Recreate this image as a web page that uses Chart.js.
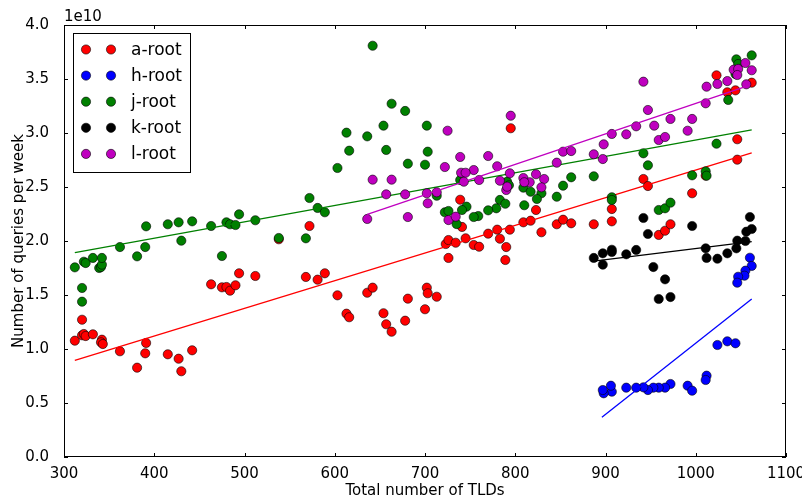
<!DOCTYPE html>
<html>
<head>
<meta charset="utf-8">
<script src="https://cdn.jsdelivr.net/npm/chart.js@4.4.0/dist/chart.umd.min.js"></script>
<style>
    html, body { margin: 0; padding: 0; background: #fff; }
    #wrap { width: 802px; height: 500px; }
</style>
</head>
<body>
<div id="wrap"><canvas id="roots-chart" width="802" height="500"></canvas></div>
<script>
// queries per week, in units of 1e10, against total number of TLDs
const aRootTlds = [312, 320, 320, 322, 324, 332, 342, 341, 343, 362, 381, 391, 390, 415, 427, 430, 442, 463, 475, 480,
    484, 490, 494, 512, 572, 538, 568, 581, 589, 603, 613, 616, 636, 642, 654, 657, 663, 678, 681, 702,
    703, 713, 700, 723, 726, 726, 795, 739, 741, 734, 745, 754, 760, 770, 780, 783, 790, 789, 794, 809,
    817, 823, 829, 846, 853, 862, 887, 907, 907, 1023, 1035, 1044, 1062, 1046, 1046, 942, 947, 1011, 996, 959,
    966, 972];
const aRootQueries = [1.077, 1.271, 1.127, 1.139, 1.120, 1.136, 1.086, 1.062, 1.046, 0.979, 0.827, 1.056, 0.960, 0.951, 0.910, 0.794, 0.988, 1.599, 1.571, 1.574,
    1.540, 1.590, 1.701, 1.676, 2.139, 2.016, 1.667, 1.642, 1.701, 1.497, 1.327, 1.294, 1.521, 1.568, 1.331, 1.229, 1.160, 1.262, 1.466, 1.568,
    1.516, 1.484, 1.368, 1.972, 2.009, 1.843, 3.044, 2.382, 2.130, 1.984, 2.025, 1.963, 1.947, 2.068, 2.105, 2.021, 1.944, 1.824, 2.105, 2.173,
    2.188, 2.287, 2.081, 2.155, 2.197, 2.164, 2.155, 2.296, 2.182, 3.534, 3.377, 3.395, 3.466, 2.942, 2.753, 2.574, 2.509, 2.605, 2.442, 2.056,
    2.095, 2.155];

const hRootTlds = [1060, 1062, 1055, 1054, 1047, 1046, 1024, 1035, 1044, 1012, 1011, 991, 996, 972, 966, 959, 953, 947, 942, 934,
    923, 907, 906, 898, 897];
const hRootQueries = [1.845, 1.769, 1.725, 1.679, 1.669, 1.614, 1.037, 1.071, 1.053, 0.753, 0.713, 0.660, 0.614, 0.676, 0.642, 0.642, 0.642, 0.620, 0.645, 0.642,
    0.642, 0.605, 0.660, 0.590, 0.620];

const jRootTlds = [312, 322, 324, 332, 339, 341, 342, 342, 320, 320, 362, 381, 390, 391, 415, 427, 430, 442, 463, 475,
    480, 484, 490, 494, 512, 642, 663, 678, 613, 636, 654, 702, 616, 657, 703, 603, 681, 700, 572, 581,
    589, 538, 568, 713, 722, 726, 739, 791, 793, 809, 817, 829, 824, 846, 853, 862, 887, 810, 783, 789,
    779, 770, 759, 754, 746, 741, 735, 907, 907, 1045, 1047, 1062, 1036, 1023, 942, 947, 996, 1011, 1012, 959,
    966, 972, 1044];
const jRootQueries = [1.756, 1.808, 1.796, 1.843, 1.750, 1.759, 1.781, 1.843, 1.565, 1.438, 1.944, 1.858, 1.944, 2.136, 2.155, 2.173, 2.003, 2.182, 2.139, 1.861,
    2.173, 2.155, 2.148, 2.247, 2.192, 3.808, 3.271, 3.204, 3.003, 2.969, 3.068, 3.068, 2.836, 2.843, 2.827, 2.676, 2.716, 2.706, 2.398, 2.306,
    2.266, 2.028, 2.025, 2.419, 2.266, 2.278, 2.565, 2.549, 2.516, 2.494, 2.456, 2.442, 2.389, 2.410, 2.512, 2.590, 2.599, 2.331, 2.380, 2.345,
    2.303, 2.284, 2.231, 2.222, 2.318, 2.287, 2.157, 2.405, 2.380, 3.682, 3.639, 3.719, 3.306, 2.901, 2.812, 2.701, 2.608, 2.645, 2.605, 2.287,
    2.303, 2.355, 3.546];

const kRootTlds = [887, 897, 907, 907, 897, 923, 942, 947, 996, 1060, 1062, 1056, 1046, 1055, 1045, 1035, 1024, 1012, 1011, 953,
    934, 959, 972, 966];
const kRootQueries = [1.843, 1.886, 1.919, 1.898, 1.781, 1.877, 2.213, 2.065, 2.139, 2.222, 2.111, 2.086, 2.003, 2.000, 1.932, 1.886, 1.836, 1.843, 1.932, 1.759,
    1.917, 1.463, 1.481, 1.645];

const lRootTlds = [725, 722, 642, 663, 657, 678, 702, 713, 703, 636, 681, 726, 795, 739, 770, 780, 754, 740, 745, 743,
    760, 783, 794, 809, 816, 823, 832, 829, 790, 791, 810, 846, 853, 862, 887, 897, 898, 907, 734, 1042,
    1047, 1046, 1055, 1062, 1056, 1035, 1024, 1012, 1011, 942, 947, 972, 996, 991, 954, 934, 923, 959, 966];
const lRootQueries = [3.021, 2.685, 2.568, 2.568, 2.432, 2.432, 2.442, 2.451, 2.349, 2.204, 2.222, 2.194, 3.160, 2.778, 2.787, 2.692, 2.657, 2.632, 2.632, 2.549,
    2.565, 2.558, 2.627, 2.583, 2.544, 2.618, 2.574, 2.497, 2.472, 2.503, 2.544, 2.725, 2.827, 2.833, 2.803, 2.759, 2.895, 2.991, 2.225, 3.586,
    3.593, 3.537, 3.648, 3.581, 3.451, 3.481, 3.454, 3.429, 3.275, 3.475, 3.213, 3.130, 3.130, 3.021, 3.068, 3.062, 2.988, 2.935, 2.963];

// end points of the fitted trend lines
const aFitTlds = [312, 1062], aFitQueries = [0.895, 2.815];
const hFitTlds = [896, 1062], hFitQueries = [0.368, 1.463];
const jFitTlds = [312, 1062], jFitQueries = [1.892, 3.028];
const kFitTlds = [887, 1062], kFitQueries = [1.813, 1.994];
const lFitTlds = [636, 1060], lFitQueries = [2.247, 3.444];

const xTicks = [300, 400, 500, 600, 700, 800, 900, 1000, 1100];
const yTicks = [0, 0.5, 1, 1.5, 2, 2.5, 3, 3.5, 4];

const roots = [
    { label: 'a-root', color: '#ff0000', xs: aRootTlds, ys: aRootQueries, fx: aFitTlds, fy: aFitQueries },
    { label: 'h-root', color: '#0000ff', xs: hRootTlds, ys: hRootQueries, fx: hFitTlds, fy: hFitQueries },
    { label: 'j-root', color: '#008000', xs: jRootTlds, ys: jRootQueries, fx: jFitTlds, fy: jFitQueries },
    { label: 'k-root', color: '#000000', xs: kRootTlds, ys: kRootQueries, fx: kFitTlds, fy: kFitQueries },
    { label: 'l-root', color: '#bf00bf', xs: lRootTlds, ys: lRootQueries, fx: lFitTlds, fy: lFitQueries },
];

const FONT = 'DejaVu Sans';
const zip = (xs, ys) => xs.map((x, i) => ({ x, y: ys[i] }));

// chart.js draws higher "order" first, so count down to keep matplotlib's stacking
const datasets = [];
let order = 100;
roots.forEach((r) => {
    datasets.push({
        label: r.label,
        data: zip(r.xs, r.ys),
        backgroundColor: r.color,
        borderColor: '#000',
        borderWidth: 0.6,
        pointRadius: 4.6,
        pointHoverRadius: 4.6,
        order: order--,
    });
    datasets.push({
        type: 'line',
        label: r.label + ' fit',
        data: zip(r.fx, r.fy),
        borderColor: r.color,
        borderWidth: 1.3,
        pointRadius: 0,
        fill: false,
        order: order--,
    });
});

// matplotlib-style frame, inward ticks, offset text and legend
const mplDecor = {
    id: 'mplDecor',
    afterDraw(chart) {
        const { ctx, chartArea: a, scales } = chart;
        ctx.save();
        ctx.strokeStyle = '#000';
        ctx.lineWidth = 1;
        ctx.strokeRect(a.left + 0.5, a.top + 0.5, a.right - a.left - 1, a.bottom - a.top - 1);

        const tl = 4;
        ctx.beginPath();
        xTicks.forEach((v) => {
            const px = Math.round(scales.x.getPixelForValue(v)) + 0.5;
            ctx.moveTo(px, a.bottom); ctx.lineTo(px, a.bottom - tl);
            ctx.moveTo(px, a.top); ctx.lineTo(px, a.top + tl);
        });
        yTicks.forEach((v) => {
            const py = Math.round(scales.y.getPixelForValue(v)) + 0.5;
            ctx.moveTo(a.left, py); ctx.lineTo(a.left + tl, py);
            ctx.moveTo(a.right, py); ctx.lineTo(a.right - tl, py);
        });
        ctx.stroke();

        ctx.fillStyle = '#000';
        ctx.font = `15px "${FONT}"`;
        ctx.textAlign = 'left';
        ctx.textBaseline = 'alphabetic';
        ctx.fillText('1e10', a.left, 21);

        // legend with two markers per entry
        const bx = 73.5, by = 33.5, bw = 117, bh = 139;
        ctx.fillStyle = '#fff';
        ctx.fillRect(bx, by, bw, bh);
        ctx.strokeRect(bx, by, bw, bh);
        ctx.font = `17px "${FONT}"`;
        ctx.textBaseline = 'middle';
        roots.forEach((r, i) => {
            const y = 49.5 + i * 26.1;
            [86, 111].forEach((x) => {
                ctx.beginPath();
                ctx.arc(x, y, 4.6, 0, Math.PI * 2);
                ctx.fillStyle = r.color;
                ctx.fill();
                ctx.lineWidth = 0.6;
                ctx.stroke();
            });
            ctx.fillStyle = '#000';
            ctx.fillText(r.label, 131, y + 1);
        });
        ctx.restore();
    },
};

new Chart(document.getElementById('roots-chart'), {
    type: 'scatter',
    data: { datasets },
    options: {
        responsive: false,
        animation: false,
        layout: { padding: { left: 0, right: 16, top: 25, bottom: 0 } },
        plugins: {
            legend: { display: false },
            tooltip: { enabled: false },
        },
        scales: {
            x: {
                type: 'linear',
                min: 300,
                max: 1100,
                ticks: {
                    stepSize: 100,
                    color: '#000',
                    font: { family: FONT, size: 15 },
                    padding: 0,
                    maxRotation: 0,
                    callback: (v) => String(v),
                },
                grid: { display: false },
                border: { display: false },
                title: {
                    display: true,
                    text: 'Total number of TLDs',
                    color: '#000',
                    font: { family: FONT, size: 15, lineHeight: 1 },
                    padding: { top: 0, bottom: 1 },
                },
                afterFit(s) {
                    s.height = 43;
                    s.paddingLeft = 0;
                    s.paddingRight = 0;
                },
            },
            y: {
                min: 0,
                max: 4,
                ticks: {
                    stepSize: 0.5,
                    color: '#000',
                    font: { family: FONT, size: 15 },
                    padding: 7,
                    callback: (v) => v.toFixed(1),
                },
                grid: { display: false },
                border: { display: false },
                title: {
                    display: true,
                    text: 'Number of queries per week',
                    color: '#000',
                    font: { family: FONT, size: 15 },
                    padding: { top: 10, bottom: 0 },
                },
                afterFit(s) {
                    s.width = 64;
                    s.paddingTop = 0;
                    s.paddingBottom = 0;
                },
            },
        },
    },
    plugins: [mplDecor],
});
</script>
</body>
</html>
